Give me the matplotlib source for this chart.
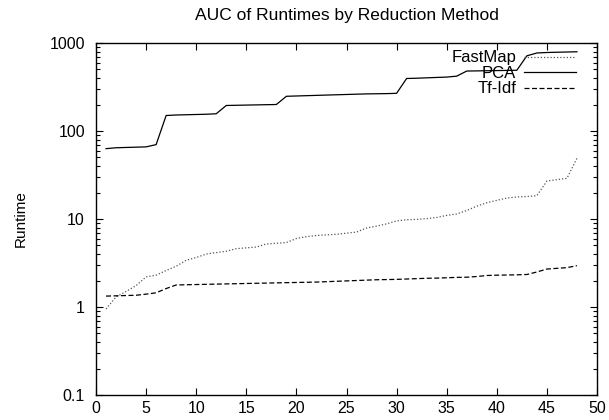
import matplotlib
matplotlib.use("Agg")
import matplotlib.pyplot as plt
from matplotlib.ticker import LogLocator, FixedLocator, NullFormatter, FuncFormatter

x = list(range(1, 49))
pca = [63, 64.5, 65, 65.5, 66, 70, 150, 152, 153, 154, 155, 157, 195, 196, 197, 198,
       199, 200, 248, 250, 252, 254, 256, 258, 260, 262, 264, 265, 266, 268, 395, 398,
       402, 406, 410, 420, 480, 482, 484, 486, 488, 490, 715, 770, 780, 785, 790, 795]
fastmap = [0.95, 1.3, 1.5, 1.75, 2.2, 2.3, 2.6, 2.9, 3.4, 3.65, 4.0, 4.15, 4.3, 4.6,
           4.7, 4.8, 5.2, 5.3, 5.4, 6.0, 6.3, 6.5, 6.6, 6.7, 6.9, 7.1, 7.9, 8.3, 8.8,
           9.5, 9.8, 9.9, 10.1, 10.4, 11.0, 11.4, 12.5, 14.0, 15.3, 16.3, 17.3, 17.8,
           18.0, 18.4, 27, 28, 29, 49]
tfidf = [1.33, 1.34, 1.35, 1.36, 1.40, 1.45, 1.62, 1.78, 1.79, 1.80, 1.81, 1.82, 1.83,
         1.84, 1.85, 1.86, 1.87, 1.88, 1.89, 1.90, 1.91, 1.92, 1.94, 1.96, 1.98, 2.00,
         2.02, 2.04, 2.05, 2.06, 2.08, 2.10, 2.12, 2.13, 2.15, 2.17, 2.18, 2.22, 2.28,
         2.30, 2.31, 2.32, 2.34, 2.5, 2.7, 2.75, 2.8, 2.95]

title = "AUC of Runtimes by Reduction Method"
ylabel = "Runtime"
x_ticks = list(range(0, 51, 5))
y_ticks = [0.1, 1, 10, 100, 1000]

plt.rcParams['font.family'] = ['Liberation Sans', 'DejaVu Sans']

fig = plt.figure(figsize=(6.09, 4.2), dpi=100)
ax = fig.add_axes([96/609, 1 - 395/420, (597 - 96)/609, (395 - 43)/420])

ax.plot(x, fastmap, color='#555555', linestyle=(0, (1, 1.6)), linewidth=0.9, label='FastMap')
ax.plot(x, pca, color='black', linestyle='-', linewidth=0.9, label='PCA')
ax.plot(x, tfidf, color='black', linestyle=(0, (4, 2)), linewidth=0.9, label='Tf-Idf')

ax.set_yscale('log')
ax.set_xlim(0, 50)
ax.set_ylim(0.1, 1000)
ax.xaxis.set_major_locator(FixedLocator(x_ticks))
ax.yaxis.set_major_locator(FixedLocator(y_ticks))
ax.yaxis.set_major_formatter(FuncFormatter(lambda v, p: ('%g' % v)))
ax.yaxis.set_minor_locator(LogLocator(base=10, subs=range(2, 10), numticks=20))
ax.yaxis.set_minor_formatter(NullFormatter())

ax.tick_params(which='both', direction='in', top=True, right=True, labelsize=11.5, width=0.8)
ax.tick_params(which='major', length=5)
ax.tick_params(which='minor', length=3)
ax.tick_params(axis='x', which='major', pad=4.5)
ax.tick_params(axis='y', which='major', pad=8)
for s in ax.spines.values():
    s.set_linewidth(1.0)

ax.set_title(title, fontsize=12.5, pad=16.5)
ax.set_ylabel(ylabel, fontsize=11, labelpad=15.5)

leg = ax.legend(loc='upper right', bbox_to_anchor=(0.958, 0.979), markerfirst=False,
                frameon=False, fontsize=12, handlelength=3.1, handletextpad=0.48,
                labelspacing=0.03, borderaxespad=0.0, borderpad=0.0)

fig.savefig('out.png', dpi=100)
